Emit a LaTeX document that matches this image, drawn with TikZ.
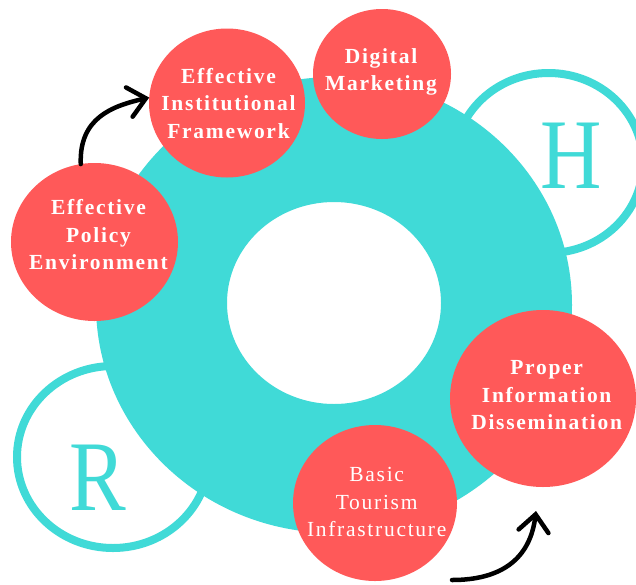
\documentclass[tikz,border=0pt]{standalone}
\usepackage{fontspec}
\setmainfont{Liberation Serif}
\newfontfamily\lblfont[LetterSpace=8]{Liberation Serif}
\usetikzlibrary{shapes.geometric,arrows.meta}
\definecolor{teal1}{RGB}{64,218,215}
\definecolor{red1}{RGB}{255,89,89}
\tikzset{
  redball/.style={ellipse, fill=red1, inner sep=0pt, outer sep=0pt},
  ringball/.style={ellipse, draw=teal1, line width=8pt, fill=white, inner sep=0pt, outer sep=0pt},
  lbl/.style={text=white, align=center, inner sep=0pt, font=\lblfont\bfseries\fontsize{21.5}{27.5}\selectfont},
  lblreg/.style={text=white, align=center, inner sep=0pt, font=\lblfont\fontsize{21.5}{27.5}\selectfont},
  bigletter/.style={text=teal1, inner sep=0pt, font=\fontsize{100}{100}\selectfont},
  flow/.style={black, line width=4.5pt, line cap=round, -{Straight Barb[length=17pt,width=30pt,line cap=round]}},
}
\begin{document}
\begin{tikzpicture}[x=1pt,y=-1pt]
\useasboundingbox (0,0) rectangle (636,584);
\clip (0,0) rectangle (636,584);
\fill[white] (0,0) rectangle (636,584);
% outline circles behind the ring
\node[ringball, minimum width=189pt, minimum height=180pt] (hc) at (548.5,163) {};
\node[ringball, minimum width=192pt, minimum height=182pt] (rc) at (113,457) {};
\node[bigletter] (hl) at (571.5,156) {\scalebox{0.85}[1]{H}};
\node[bigletter] (rl) at (97.5,477.5) {\scalebox{0.85}[1]{R}};
% big ring
\fill[teal1, even odd rule] (334,305) ellipse [x radius=238pt, y radius=228pt]
  (334,303) ellipse [x radius=107pt, y radius=101pt];
% red circles
\node[redball, minimum width=167pt, minimum height=158pt] (pol) at (94.5,242) {};
\node[redball, minimum width=156pt, minimum height=149pt] (inst) at (227,103) {};
\node[redball, minimum width=138pt, minimum height=130pt] (dig) at (382,74) {};
\node[redball, minimum width=186pt, minimum height=177pt] (prop) at (543,398.5) {};
\node[redball, minimum width=164pt, minimum height=156pt] (bas) at (375,503) {};
% labels
\node[lbl] (tpol) at (98.5,235) {Effective\\Policy\\Environment};
\node[lbl] (tinst) at (228.5,103.5) {Effective\\Institutional\\Framework};
\node[lbl] (tdig) at (381,71.8) {Digital\\Marketing};
\node[lbl] (tprop) at (546.7,395.5) {Proper\\Information\\Dissemination};
\node[lblreg] (tbas) at (376.7,502) {Basic\\Tourism\\Infrastructure};
% arrows
\coordinate (a2s) at (452,580);
\coordinate (a2e) at (536,511);
\draw[flow] (pol.100) .. controls (79,118) and (112,106) .. (inst.176);
\draw[flow] (a2s) .. controls (500,580) and (530,560) .. (a2e);
\end{tikzpicture}
\end{document}
